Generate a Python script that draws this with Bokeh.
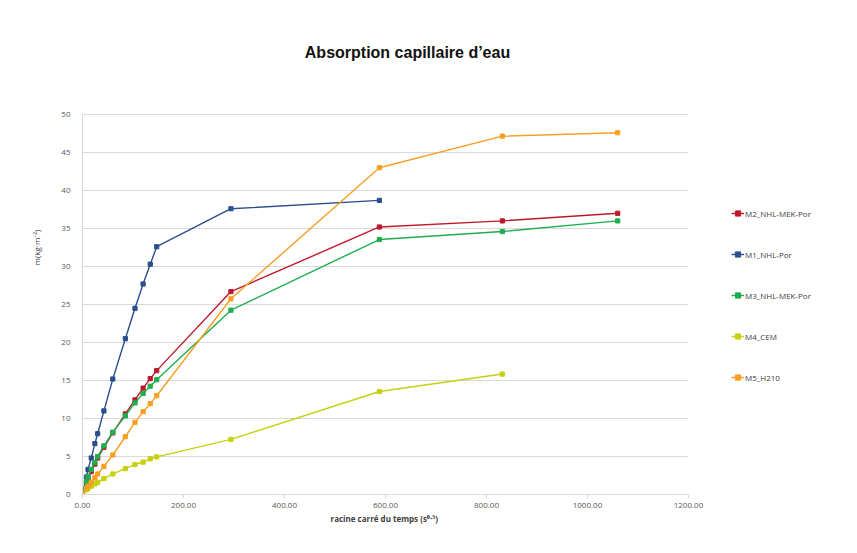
from bokeh.plotting import figure
from bokeh.models import (Legend, LegendItem, Label, Title, NumeralTickFormatter,
                          FixedTicker, Range1d)
from bokeh.embed import file_html
from bokeh.resources import INLINE

# racine carrée du temps (s^0.5)
x_all = [0, 7.75, 10.95, 17.32, 24.49, 30.0, 42.43, 60.0, 84.85, 103.92, 120.0,
         134.16, 146.97, 293.94, 587.88, 831.38, 1059.81]

m2_nhl_mek_por = [0, 1.5, 2.1, 3.0, 4.0, 4.8, 6.2, 8.1, 10.6, 12.45, 14.0, 15.25, 16.3,
                  26.7, 35.2, 36.0, 37.0]
m1_nhl_por = [0, 2.3, 3.3, 4.8, 6.7, 8.0, 11.0, 15.2, 20.5, 24.5, 27.7, 30.3, 32.6,
              37.6, 38.7]
m3_nhl_mek_por = [0, 1.7, 2.3, 3.3, 4.2, 5.0, 6.4, 8.2, 10.35, 12.05, 13.3, 14.25, 15.1,
                  24.25, 33.55, 34.6, 36.0]
m4_cem = [0, 0.6, 0.8, 1.1, 1.4, 1.6, 2.1, 2.7, 3.4, 3.95, 4.25, 4.7, 4.95,
          7.25, 13.55, 15.85]
m5_h210 = [0, 0.8, 1.1, 1.6, 2.2, 2.7, 3.7, 5.2, 7.6, 9.5, 10.9, 11.95, 13.0,
           25.75, 43.0, 47.15, 47.6]

series_names = ["M2_NHL-MEK-Por", "M1_NHL-Por", "M3_NHL-MEK-Por", "M4_CEM", "M5_H210"]
series_values = [m2_nhl_mek_por, m1_nhl_por, m3_nhl_mek_por, m4_cem, m5_h210]
series_colors = ["#C0172D", "#2B4F8C", "#1FAE4F", "#C5D10E", "#F5A023"]

x_ticks = [0, 200, 400, 600, 800, 1000, 1200]
y_ticks = [0, 5, 10, 15, 20, 25, 30, 35, 40, 45, 50]
x_max, y_max = 1200, 50

W, H = 849, 545
BL, BB = 82, 51                 # left / bottom borders
plot_w, plot_h = 606, 380       # size of the 0..1200 x 0..50 area
frame_w, frame_h = W - BL, H - BB
x_end = x_max * frame_w / plot_w
y_end = y_max * frame_h / plot_h

p = figure(width=W, height=H, output_backend="svg", toolbar_location=None,
           x_range=Range1d(0, x_end), y_range=Range1d(0, y_end),
           min_border_left=BL, min_border_right=0, min_border_top=0,
           min_border_bottom=BB)
p.outline_line_color = None
p.background_fill_color = "white"
p.border_fill_color = "white"

# grid (horizontal lines limited to the plotting area)
p.xgrid.visible = False
p.ygrid.visible = False
p.segment(x0=[0] * len(y_ticks), x1=[x_max] * len(y_ticks), y0=y_ticks, y1=y_ticks,
          line_color="#D9D9D9", line_width=1, level="underlay")

tick_font = "Open Sans"
# x axis
p.xaxis.bounds = (0, x_max)
p.xaxis.ticker = FixedTicker(ticks=x_ticks)
p.xaxis.formatter = NumeralTickFormatter(format="0.00")
p.xaxis.axis_line_color = "#D9D9D9"
p.xaxis.major_tick_line_color = "#D9D9D9"
p.xaxis.major_tick_out = 4
p.xaxis.major_tick_in = 0
p.xaxis.minor_tick_line_color = None
p.xaxis.major_label_text_font = tick_font
p.xaxis.major_label_text_font_size = "8px"
p.xaxis.major_label_text_color = "#595959"
p.xaxis.major_label_standoff = 4

# x axis title, centred under the 0..1200 span
xtitle = Title(text="racine carré du temps (s⁰·⁵)", align="left", offset=248,
               text_font=tick_font, text_font_size="8px", text_font_style="bold",
               text_color="#404040", standoff=1)
p.add_layout(xtitle, "below")

# y axis
p.yaxis.bounds = (0, y_max)
p.yaxis.ticker = FixedTicker(ticks=y_ticks)
p.yaxis.axis_line_color = "#D9D9D9"
p.yaxis.major_tick_line_color = None
p.yaxis.minor_tick_line_color = None
p.yaxis.major_label_text_font = tick_font
p.yaxis.major_label_text_font_size = "8px"
p.yaxis.major_label_text_color = "#595959"
p.yaxis.major_label_standoff = 6
p.yaxis.axis_label = "m(kg·m⁻²)"
p.yaxis.axis_label_text_font = tick_font
p.yaxis.axis_label_text_font_size = "8px"
p.yaxis.axis_label_text_font_style = "normal"
p.yaxis.axis_label_text_color = "#404040"
p.yaxis.axis_label_standoff = 16

items = []
for name, vals, col in zip(series_names, series_values, series_colors):
    xs = x_all[:len(vals)]
    r1 = p.line(xs, vals, line_color=col, line_width=1.4)
    r2 = p.scatter(xs, vals, marker="square", size=4.2, fill_color=col, line_color=col)
    items.append(LegendItem(label=name, renderers=[r1, r2]))

legend = Legend(items=items, location=(649, 107), orientation="vertical",
                label_text_font=tick_font, label_text_font_size="8px",
                label_text_color="#404040", glyph_width=13, glyph_height=20,
                label_height=20, spacing=21, label_standoff=1, padding=0,
                margin=0, border_line_alpha=0, background_fill_alpha=0)
p.add_layout(legend, "center")

title = Label(x=325, y=frame_h - 52, x_units="screen", y_units="screen",
              text="Absorption capillaire d’eau", text_font="Liberation Sans",
              text_font_style="bold", text_font_size="16px", text_color="#111111",
              text_align="center", text_baseline="middle")
p.add_layout(title)

open("out.html", "w").write(file_html(p, INLINE))
